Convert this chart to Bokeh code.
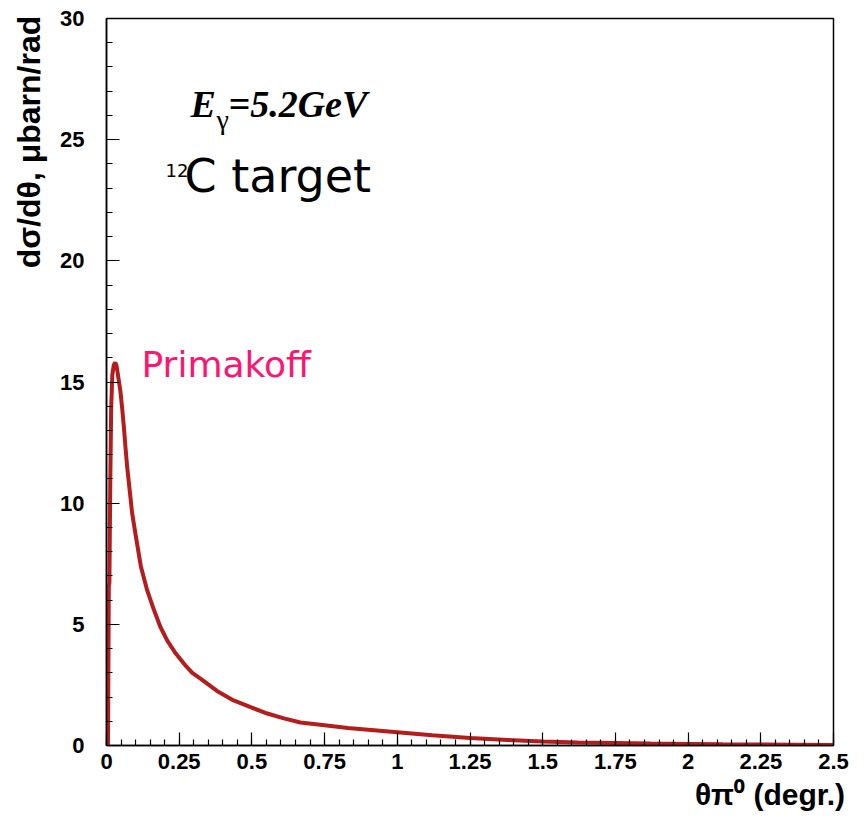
import math
from bokeh.plotting import figure
from bokeh.models import FixedTicker, Label, Range1d
from bokeh.embed import file_html
from bokeh.resources import INLINE

# ---- data ----
theta = [0.000, 0.005, 0.006, 0.008, 0.010, 0.013, 0.016, 0.020, 0.025, 0.030,
         0.034, 0.038, 0.043, 0.048, 0.054, 0.060, 0.066, 0.071, 0.080, 0.088,
         0.100, 0.118, 0.140, 0.163, 0.185, 0.209, 0.235, 0.266, 0.295, 0.323,
         0.380, 0.437, 0.500, 0.553, 0.610, 0.667, 0.750, 0.830, 0.920, 1.000,
         1.120, 1.250, 1.380, 1.500, 1.620, 1.750, 1.870, 2.000, 2.120, 2.250,
         2.370, 2.500]
xsec = [0.0, 0.0, 2.0, 6.6, 6.7, 10.9, 13.9, 15.3, 15.7, 15.8,
        15.7, 15.4, 15.0, 14.6, 13.9, 13.1, 12.2, 11.5, 10.5, 9.6,
        8.7, 7.4, 6.4, 5.6, 4.9, 4.33, 3.85, 3.38, 3.0, 2.76,
        2.25, 1.86, 1.56, 1.32, 1.12, 0.95, 0.84, 0.72, 0.63, 0.55,
        0.42, 0.31, 0.23, 0.17, 0.12, 0.10, 0.08, 0.065, 0.05, 0.04,
        0.03, 0.02]

x_major = [0, 0.25, 0.5, 0.75, 1, 1.25, 1.5, 1.75, 2, 2.25, 2.5]
x_labels = {0: "0", 0.25: "0.25", 0.5: "0.5", 0.75: "0.75", 1: "1", 1.25: "1.25",
            1.5: "1.5", 1.75: "1.75", 2: "2", 2.25: "2.25", 2.5: "2.5"}
x_minor = [round(i * 0.05, 2) for i in range(51)]
y_major = [0, 5, 10, 15, 20, 25, 30]
y_minor = list(range(31))

x_title = "θπ⁰ (degr.)"
y_title = "dσ/dθ, μbarn/rad"

x_min, x_max = 0.0, 2.5
y_min, y_max = 0.0, 30.0

LINE_COLOR = "#b51c1c"
PINK = "#ff1470"
EM = "\u2003"   # em space, used to push the centred axis titles to the frame end

p = figure(frame_width=727, frame_height=727,
           min_border_left=106, min_border_right=25,
           min_border_top=18, min_border_bottom=70,
           output_backend="svg", toolbar_location=None,
           x_range=Range1d(x_min, x_max), y_range=Range1d(y_min, y_max))

p.grid.visible = False
p.outline_line_color = "black"
p.outline_line_width = 1.5
p.background_fill_color = "white"
p.border_fill_color = "white"

for ax, maj, mino in ((p.xaxis[0], x_major, x_minor), (p.yaxis[0], y_major, y_minor)):
    ax.ticker = FixedTicker(ticks=maj, minor_ticks=mino)
    ax.major_tick_in = 13
    ax.major_tick_out = 0
    ax.minor_tick_in = 6
    ax.minor_tick_out = 0
    ax.axis_line_color = "black"
    ax.axis_line_width = 1.5
    ax.major_tick_line_color = "black"
    ax.minor_tick_line_color = "black"
    ax.major_tick_line_width = 1.2
    ax.minor_tick_line_width = 1.2
    ax.major_label_text_font = "Liberation Sans"
    ax.major_label_text_font_style = "bold"
    ax.major_label_text_font_size = "22px"
    ax.major_label_text_color = "black"
    ax.axis_label_text_font = "Liberation Sans"
    ax.axis_label_text_font_style = "bold"
    ax.axis_label_text_color = "black"

p.xaxis[0].major_label_overrides = x_labels
p.xaxis[0].major_label_standoff = 8
p.yaxis[0].major_label_standoff = 22

# titles are centred by the axis; leading em spaces shift the visible text
p.xaxis[0].axis_label = EM * 20 + x_title
p.xaxis[0].axis_label_text_font_size = "30px"
p.xaxis[0].axis_label_standoff = 6
p.yaxis[0].axis_label = EM * 15 + y_title
p.yaxis[0].axis_label_text_font_size = "32px"
p.yaxis[0].axis_label_standoff = 10

p.line(theta, xsec, line_color=LINE_COLOR, line_width=4)

# helpers converting reference pixel positions (anchor) into data positions
fx = (x_max - x_min) / 727.0
fy = (y_max - y_min) / 727.0

def add(text, px, py, size, font="Liberation Sans", style="normal",
        color="black"):
    p.add_layout(Label(x=x_min + (px - 106) * fx, y=y_min + (745 - py) * fy,
                       text=text, text_font=font, text_font_style=style,
                       text_font_size=f"{size}px", text_color=color,
                       text_align="left", text_baseline="alphabetic"))

# E_gamma annotation
add("E", 190, 103, 38, font="Liberation Serif", style="bold italic")
add("γ", 216, 119, 28, font="Liberation Serif")
add("=5.2GeV", 228, 103, 38, font="Liberation Serif", style="bold italic")

# 12C target
add("12", 165, 170, 18, font="DejaVu Sans")
add("C target", 184, 175, 46, font="DejaVu Sans")

# Primakoff
add("Primakoff", 141, 364, 36, font="DejaVu Sans", color=PINK)

open("out.html", "w").write(file_html(p, INLINE))
